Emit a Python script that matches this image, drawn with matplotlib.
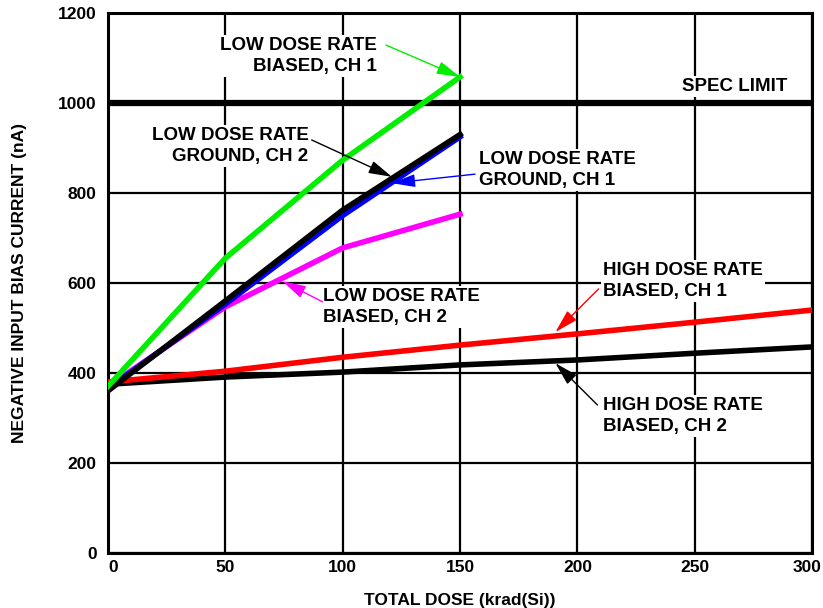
import numpy as np
import matplotlib.pyplot as plt
from matplotlib.transforms import ScaledTranslation

plt.rcParams['font.family'] = ['Liberation Sans', 'DejaVu Sans']
plt.rcParams['font.weight'] = 'bold'

# %% Bias current vs total dose (krad(Si)), values in nA
dose_low = [0, 50, 100, 150]
low_biased_ch1 = [370, 655, 873, 1058]
low_ground_ch2 = [360, 560, 762, 930]
low_ground_ch1 = [365, 553, 750, 925]
low_biased_ch2 = [370, 547, 678, 753]

dose_high = [0, 50, 100, 150, 200, 250, 300]
high_biased_ch1 = [380, 404, 435, 462, 487, 513, 540]
high_biased_ch2 = [375, 391, 402, 418, 429, 444, 458]

spec_limit = 1000

x_ticks = [0, 50, 100, 150, 200, 250, 300]
y_ticks = [0, 200, 400, 600, 800, 1000, 1200]

# %% Plot
fig = plt.figure(figsize=(8.23, 6.08), dpi=100)
ax = fig.add_axes([0.131, 0.0905, 0.856, 0.888])

ax.set_xlim(0, 300)
ax.set_ylim(0, 1200)
ax.set_xticks(x_ticks)
ax.set_yticks(y_ticks)
ax.tick_params(length=0, labelsize=12.5)
ax.tick_params(axis='x', pad=5)
ax.tick_params(axis='y', pad=8)
for lbl in ax.get_xticklabels() + ax.get_yticklabels():
    lbl.set_fontweight('bold')
# end labels sit a little inside the plot edges
first = ax.get_xticklabels()[0]
first.set_transform(first.get_transform() + ScaledTranslation(5 / 100, 0, fig.dpi_scale_trans))
last = ax.get_xticklabels()[-1]
last.set_transform(last.get_transform() + ScaledTranslation(-5 / 100, 0, fig.dpi_scale_trans))

ax.grid(True, color='black', lw=1.6)
ax.set_axisbelow(True)
for sp in ax.spines.values():
    sp.set_linewidth(2.2)

ax.axhline(spec_limit, color='black', lw=4.5, zorder=3)

ax.plot(dose_high, high_biased_ch2, color='black', lw=4, zorder=4)
ax.plot(dose_high, high_biased_ch1, color='#ff0000', lw=4, zorder=4)
ax.plot(dose_low, low_biased_ch2, color='#ff00ff', lw=4, zorder=4)
ax.plot(dose_low, low_ground_ch1, color='#0000ff', lw=4, zorder=4)
ax.plot(dose_low, low_ground_ch2, color='black', lw=4, zorder=5)
ax.plot(dose_low, low_biased_ch1, color='#00ee00', lw=4, zorder=5)

ax.set_xlabel('TOTAL DOSE (krad(Si))', fontsize=12.5, fontweight='bold', labelpad=13)
ax.set_ylabel('NEGATIVE INPUT BIAS CURRENT (nA)', fontsize=12.5, fontweight='bold', labelpad=22)

box = dict(facecolor='white', edgecolor='none', pad=1.5)
txt = dict(fontsize=13.5, fontweight='bold', linespacing=1.3, zorder=6, bbox=box)

# labels and pointer arrows: (text, x, y, ha, colour, arrow start, arrow tip)
labels = [
    ('LOW DOSE RATE\nBIASED, CH 1', 114.5, 1105, 'right', '#00ee00', (118.4, 1129), (150, 1058)),
    ('LOW DOSE RATE\nGROUND, CH 2', 85.5, 905, 'right', 'black', (86.8, 918), (121, 836)),
    ('LOW DOSE RATE\nGROUND, CH 1', 158, 852, 'left', '#0000ff', (156.4, 842), (120.9, 822)),
    ('LOW DOSE RATE\nBIASED, CH 2', 91.5, 546, 'left', '#ff00ff', (91.5, 558), (74.4, 604)),
    ('HIGH DOSE RATE\nBIASED, CH 1', 211, 604, 'left', '#ff0000', (209, 587), (190.6, 491)),
    ('HIGH DOSE RATE\nBIASED, CH 2', 211, 305, 'left', 'black', (208.5, 329), (190.6, 422)),
]
for text, tx, ty, ha, col, start, tip in labels:
    ax.text(tx, ty, text, ha=ha, va='center', multialignment=ha, **txt)
    ax.annotate('', xy=tip, xytext=start, zorder=7,
                arrowprops=dict(arrowstyle='-|>,head_length=0.8,head_width=0.22',
                                mutation_scale=18, lw=1, color=col,
                                shrinkA=0, shrinkB=0))

ax.text(267, 1036, 'SPEC LIMIT', ha='center', va='center', **txt)

fig.savefig('out.png', dpi=100)
